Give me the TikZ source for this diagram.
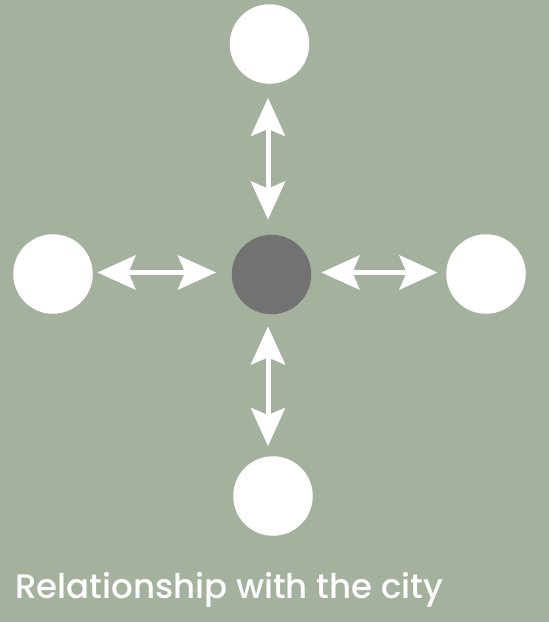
\documentclass[tikz,border=0pt]{standalone}
\usepackage{fontspec}
\setmainfont{Poppins}
\newfontfamily\capfont{Poppins Medium}
\usetikzlibrary{arrows.meta}
\definecolor{sage}{RGB}{164,178,157}
\definecolor{hub}{RGB}{114,114,114}
\tikzset{
  disc/.style={circle, minimum size=79.5pt, inner sep=0pt, fill=white},
  hubdisc/.style={disc, fill=hub},
  dbl/.style={white, line width=5pt,
    {Stealth[length=38pt, width=34pt, inset=7pt]}-{Stealth[length=38pt, width=34pt, inset=7pt]}},
  caption/.style={text=white, font=\capfont\fontsize{34}{40}\selectfont, anchor=base west, inner sep=0pt}
}
\begin{document}
\begin{tikzpicture}[x=1pt, y=-1pt]
\fill[sage] (0,0) rectangle (549,622);
\useasboundingbox (0,0) rectangle (549,622);
\node[disc] (top) at (269.5,44) {};
\node[disc] (left) at (53,274) {};
\node[hubdisc] (center) at (271.5,274.5) {};
\node[disc] (right) at (486,274) {};
\node[disc] (bottom) at (273,496) {};
\draw[dbl, shorten <=14pt, shorten >=15pt] ([xshift=-1.5pt]top.south) -- ([xshift=-1.5pt]top.south |- center.north);
\draw[dbl, shorten <=4.5pt, shorten >=15.5pt] ([yshift=1.5pt]left.east) -- ([yshift=1.5pt]left.east -| center.west);
\draw[dbl, shorten <=10pt, shorten >=8.5pt] ([yshift=2pt]center.east) -- ([yshift=2pt]center.east -| right.west);
\draw[dbl, shorten <=12pt, shorten >=10pt] ([xshift=-3.5pt]center.south) -- ([xshift=-3.5pt]center.south |- bottom.north);
\node[caption] (cap) at (15,598) {Relationship with the city};
\end{tikzpicture}
\end{document}
